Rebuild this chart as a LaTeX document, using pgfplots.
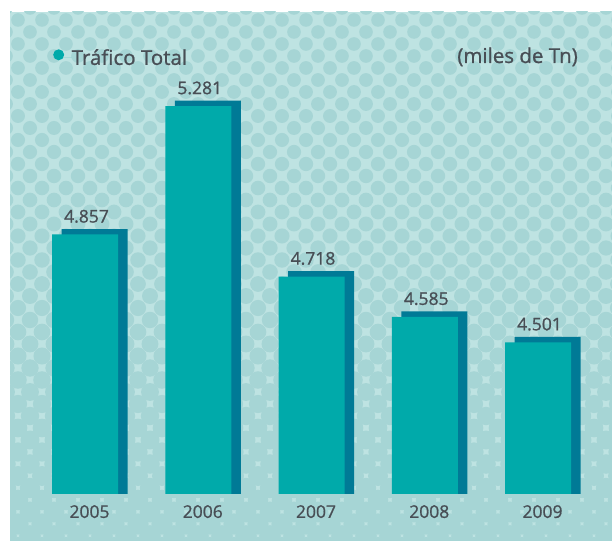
\documentclass[border=0pt]{standalone}
\usepackage{fontspec}
\setmainfont{Open Sans}
\newfontfamily\lblface{Open Sans}[FakeBold=1]
\usepackage{pgfplots}
\usepackage{pgfplotstable}
\pgfplotsset{compat=1.18}
\definecolor{bgc}{RGB}{190,227,226}
\definecolor{dotc}{RGB}{166,213,213}
\definecolor{barc}{RGB}{0,170,170}
\definecolor{shc}{RGB}{0,122,150}
\definecolor{txt}{RGB}{72,78,85}

% Trafico total, miles de Tn
\pgfplotstableread{
x v
0 4857
1 5281
2 4718
3 4585
4 4501
}\traffic

\newcommand{\lblfont}{\lblface\fontsize{17.5}{21}\selectfont}
\newcommand{\topfont}{\lblface\fontsize{20.5}{24}\selectfont}

\begin{document}
\begin{tikzpicture}[x=1pt,y=1pt]
\path (-10,-46) rectangle (602,494);
\fill[bgc] (0,-46) rectangle (602,482);
% halftone dots, growing towards the bottom
\begin{scope}
  \clip (0,-46) rectangle (602,482);
  \foreach \j in {0,...,45}{
    \foreach \i in {0,...,26}{
      \pgfmathsetmacro{\cxx}{\i*24+mod(\j,2)*12-4}
      \pgfmathsetmacro{\cyy}{486-\j*12}
      \pgfmathsetmacro{\myr}{6.8+4.2*(\j/45)*(\j/45)}
      \fill[dotc] (\cxx,\cyy) circle (\myr);
    }
  }
\end{scope}

\begin{axis}[
    scale only axis, width=602pt, height=482pt,
    xmin=-0.6623, xmax=4.6534,
    ymin=4000, ymax=5591.8,
    axis line style={draw=none},
    major tick length=0pt,
    ytick=\empty,
    xtick={0,1,2,3,4},
    xticklabels={2005,2006,2007,2008,2009},
    xticklabel style={anchor=north, inner sep=0pt, yshift=-11pt, xshift=4.5pt,
                      font=\lblfont, text=txt},
    /pgf/number format/assume math mode=true,
    legend cell align=left,
    legend image code/.code={\fill[barc] (5.5pt,3pt) circle (5.5pt);
                             \path (0pt,0pt) -- (18.5pt,0pt);},
    legend style={draw=none, fill=none, inner sep=0pt,
                  at={(axis description cs:0.0714,0.905)}, anchor=west,
                  font=\topfont, text=txt, nodes={inner sep=0pt}},
]
  % shadow
  \addplot[ybar, bar width=66pt, bar shift=9.5pt, fill=shc, draw=none, forget plot]
    table[x=x, y expr=\thisrow{v}+18] {\traffic};
  % front bars
  \addplot[ybar, bar width=66pt, bar shift=0pt, fill=barc, draw=none,
    nodes near coords={\pgfmathprintnumber[fixed, precision=0, 1000 sep={.}]{\pgfplotspointmeta}},
    every node near coord/.append style={anchor=south, inner sep=0pt, yshift=11.5pt,
                                         xshift=1.5pt, font=\lblfont, text=txt}]
    table[x=x, y=v] {\traffic};
  \legend{Tráfico Total}
  \node[anchor=base east, font=\topfont, text=txt, inner sep=0pt]
    at (axis description cs:0.9435,0.8942) {(miles de Tn)};
\end{axis}
\end{tikzpicture}
\end{document}
